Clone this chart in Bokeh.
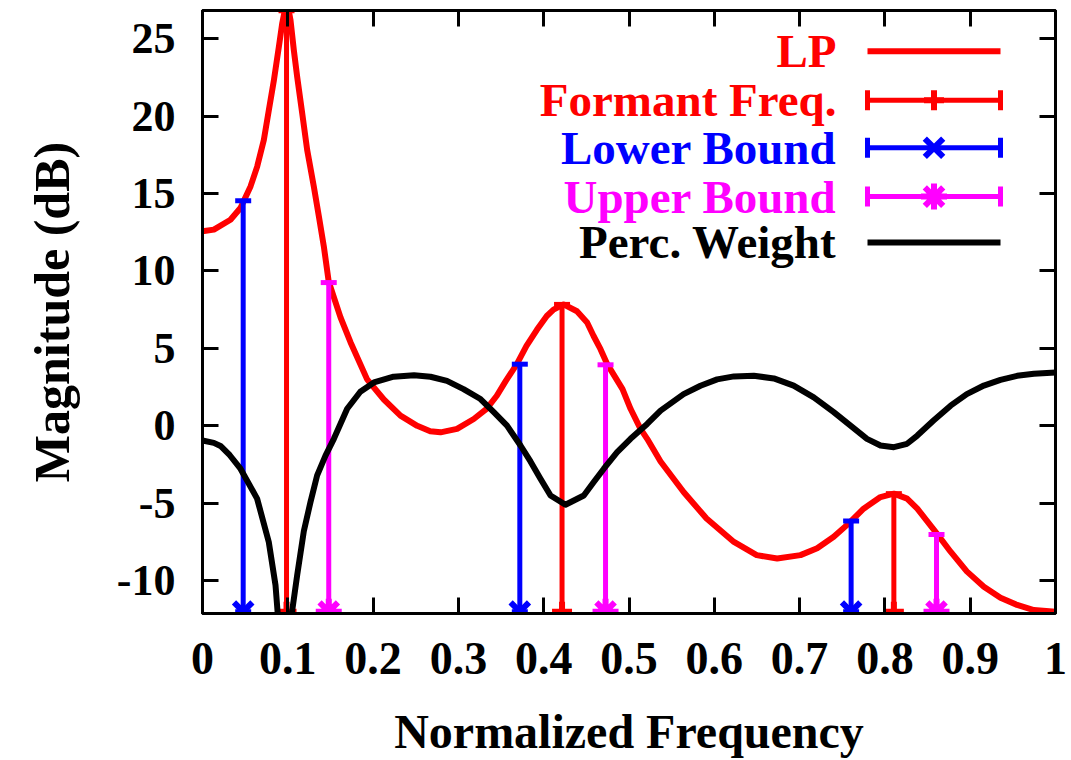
import numpy as np
from bokeh.plotting import figure
from bokeh.models import LinearAxis, FixedTicker, NumeralTickFormatter, Range1d, CustomJSTickFormatter
from bokeh.core.properties import value
from bokeh.embed import file_html
from bokeh.resources import INLINE

# ---------------- data ----------------
lp_freq = [0.0, 0.0133, 0.0328, 0.0445, 0.0563, 0.0641, 0.0719, 0.0778, 0.0837, 0.0895,
           0.0934, 0.0973, 0.0985, 0.1032, 0.1071, 0.111, 0.1169, 0.1227, 0.1305, 0.1364,
           0.1422, 0.148, 0.1618, 0.1735, 0.193, 0.2126, 0.2321, 0.2517, 0.267, 0.279,
           0.2984, 0.318, 0.333, 0.345, 0.3556, 0.3685, 0.3798, 0.392, 0.4036, 0.4115,
           0.4233, 0.439, 0.4509, 0.4585, 0.4666, 0.4745, 0.4924, 0.5018, 0.5135, 0.5213,
           0.537, 0.564, 0.5909, 0.623, 0.6497, 0.6737, 0.701, 0.7206, 0.740, 0.7577,
           0.775, 0.7948, 0.8105, 0.826, 0.838, 0.861, 0.877, 0.896, 0.916, 0.9355,
           0.955, 0.9746, 1.0]
lp_db = [12.56, 12.67, 13.31, 14.07, 15.46, 16.74, 18.46, 20.39, 22.32, 24.47,
         25.97, 27.04, 27.6, 26.18, 24.25, 22.54, 20.18, 17.82, 15.46, 13.53,
         11.6, 9.3, 7.0, 5.4, 3.0, 1.7, 0.66, 0.0, -0.35, -0.42,
         -0.2, 0.44, 1.09, 1.94, 2.9, 3.98, 5.16, 6.2, 7.09, 7.5,
         7.84, 7.4, 6.67, 5.8, 4.95, 3.98, 2.37, 1.1, -0.2, -0.84,
         -2.3, -4.27, -5.99, -7.5, -8.35, -8.57, -8.35, -7.9, -7.17, -6.3,
         -5.35, -4.6, -4.38, -4.7, -5.35, -6.96, -8.13, -9.4, -10.39, -11.1,
         -11.57, -11.9, -12.0]

pw_freq = [0.0, 0.0133, 0.0211, 0.032, 0.0445, 0.064, 0.0777, 0.0856, 0.088, 0.0935,
           0.0985, 0.102, 0.105, 0.111, 0.1188, 0.1266, 0.1344, 0.1442, 0.154, 0.1696,
           0.185, 0.201, 0.224, 0.248, 0.2673, 0.2866, 0.306, 0.3259, 0.3415, 0.357,
           0.3728, 0.3845, 0.3962, 0.408, 0.4255, 0.447, 0.4587, 0.4705, 0.4861, 0.5018,
           0.5213, 0.537, 0.564, 0.5838, 0.6033, 0.623, 0.6463, 0.6698, 0.693, 0.7166,
           0.740, 0.7597, 0.779, 0.7948, 0.8105, 0.826, 0.838, 0.857, 0.877, 0.896,
           0.916, 0.9355, 0.955, 0.9746, 1.0]
pw_db = [-0.95, -1.1, -1.3, -1.9, -2.77, -4.7, -7.5, -10.3, -12.0, -18.0,
         -25.0, -18.0, -12.0, -9.64, -6.8, -4.92, -3.2, -1.92, -0.84, 1.1,
         2.2, 2.8, 3.17, 3.27, 3.17, 2.9, 2.37, 1.73, 0.88, 0.01,
         -1.27, -2.3, -3.42, -4.5, -5.1, -4.5, -3.63, -2.77, -1.7, -0.84,
         0.12, 0.98, 2.05, 2.59, 3.0, 3.19, 3.23, 3.06, 2.6, 1.84,
         0.88, 0.01, -0.84, -1.27, -1.38, -1.16, -0.63, 0.34, 1.3, 2.05,
         2.6, 2.97, 3.23, 3.36, 3.45]

formant_freq = [0.0985, 0.4215, 0.8105]
formant_db = [26.8, 7.84, -4.38]
lower_freq = [0.0477, 0.372, 0.7604]
lower_db = [14.54, 3.98, -6.14]
upper_freq = [0.148, 0.4725, 0.8605]
upper_db = [9.25, 3.94, -7.02]
base_db = -12.0

x_ticks = [0, 0.1, 0.2, 0.3, 0.4, 0.5, 0.6, 0.7, 0.8, 0.9, 1.0]
y_ticks = [-10, -5, 0, 5, 10, 15, 20, 25]

legend_labels = ["LP", "Formant Freq.", "Lower Bound", "Upper Bound", "Perc. Weight"]

# ---------------- layout / style ----------------
RED, BLUE, MAG, BLK = "#ff0000", "#0000ff", "#ff00ff", "#000000"
FONT = "Liberation Serif"
X_LO, X_HI = 0.0, 1.0
Y_LO, Y_HI = -12.12, 26.82
FL, FT, FW, FH = 202, 10, 853, 605   # frame position in pixels

p = figure(width=1071, height=760, output_backend="svg", toolbar_location=None,
           x_range=Range1d(X_LO, X_HI), y_range=Range1d(Y_LO, Y_HI),
           min_border_left=FL, min_border_top=FT, min_border_right=1071 - FL - FW,
           min_border_bottom=760 - FT - FH)
p.background_fill_color = "white"
p.border_fill_color = "white"
p.grid.visible = False
p.outline_line_color = "black"
p.outline_line_width = 3


def style_axis(ax, size):
    ax.major_tick_in = 16
    ax.major_tick_out = 0
    ax.minor_tick_line_color = None
    ax.major_tick_line_width = 3
    ax.major_tick_line_color = "black"
    ax.axis_line_width = 3
    ax.axis_line_color = "black"
    ax.major_label_text_font = FONT
    ax.major_label_text_font_style = "bold"
    ax.major_label_text_color = "black"
    ax.major_label_text_font_size = size
    ax.axis_label_text_font = FONT
    ax.axis_label_text_font_style = "bold"
    ax.axis_label_text_color = "black"


p.xaxis.ticker = FixedTicker(ticks=x_ticks)
p.xaxis.formatter = NumeralTickFormatter(format="0.[0]")
p.yaxis.ticker = FixedTicker(ticks=y_ticks)
p.yaxis.formatter = NumeralTickFormatter(format="0")
p.xaxis.axis_label = "Normalized Frequency"
p.yaxis.axis_label = "Magnitude (dB)"
style_axis(p.xaxis[0], "46px")
style_axis(p.yaxis[0], "44px")
p.xaxis.axis_label_text_font_size = "48px"
p.yaxis.axis_label_text_font_size = "50px"
p.xaxis.major_label_standoff = 29
p.xaxis.axis_label_standoff = 28
p.yaxis.major_label_standoff = 27
p.yaxis.axis_label_standoff = 34

# mirrored ticks on top and right (no labels)
blank = CustomJSTickFormatter(code="return ''")
top_ax = LinearAxis(ticker=FixedTicker(ticks=x_ticks), major_label_standoff=0, formatter=blank)
right_ax = LinearAxis(ticker=FixedTicker(ticks=y_ticks), major_label_standoff=0, formatter=blank)
style_axis(top_ax, "8px")
style_axis(right_ax, "8px")
top_ax.major_label_text_color = None
right_ax.major_label_text_color = None
p.add_layout(top_ax, "above")
p.add_layout(right_ax, "right")

# ---------------- curves and error bars ----------------
LW = 6
BW = 5
MK = {"cross": 20, "x": 26, "asterisk": 26}
p.line(lp_freq, lp_db, line_color=RED, line_width=LW, line_join="round")


def bars(fx, fy, color, marker):
    n = len(fx)
    p.segment(x0=fx, y0=[base_db] * n, x1=fx, y1=fy, line_color=color, line_width=BW)
    p.scatter(fx, fy, marker="dash", size=16, line_color=color, line_width=BW)
    p.scatter(fx, [base_db] * n, marker="dash", size=16, line_color=color, line_width=BW)
    p.scatter(fx, [base_db] * n, marker=marker, size=MK[marker], line_color=color,
              fill_color=color, line_width=BW + 1)


bars(formant_freq, formant_db, RED, "cross")
bars(lower_freq, lower_db, BLUE, "x")
bars(upper_freq, upper_db, MAG, "asterisk")
p.line(pw_freq, pw_db, line_color=BLK, line_width=LW, line_join="round")

# ---------------- key (gnuplot style, text right-aligned, sample on right) ----------------
def dx(px):
    return X_LO + (px - FL) / FW * (X_HI - X_LO)


def dy(py):
    return Y_HI - (py - FT) / FH * (Y_HI - Y_LO)


row_py = [51, 100, 147.7, 196.7, 242.7]
row_col = [RED, RED, BLUE, MAG, BLK]
row_mark = [None, "cross", "x", "asterisk", None]
txt_px, s0, s1 = 836, 867, 1000
for lab, py, col, mk in zip(legend_labels, row_py, row_col, row_mark):
    p.text(x=[dx(txt_px)], y=[dy(py)], text=[lab], text_align="right",
           text_baseline="middle", text_font=value(FONT), text_font_style="bold",
           text_font_size="47px", text_color=col)
    p.segment(x0=[dx(s0)], y0=[dy(py)], x1=[dx(s1)], y1=[dy(py)],
              line_color=col, line_width=LW if mk is None else BW)
    if mk is not None:
        p.scatter([dx(s0), dx(s1)], [dy(py), dy(py)], marker="dash", angle=np.pi / 2,
                  size=20, line_color=col, line_width=BW)
        p.scatter([dx((s0 + s1) / 2)], [dy(py)], marker=mk, size=MK[mk], line_color=col,
                  fill_color=col, line_width=BW + 1)

open("out.html", "w").write(file_html(p, INLINE))
